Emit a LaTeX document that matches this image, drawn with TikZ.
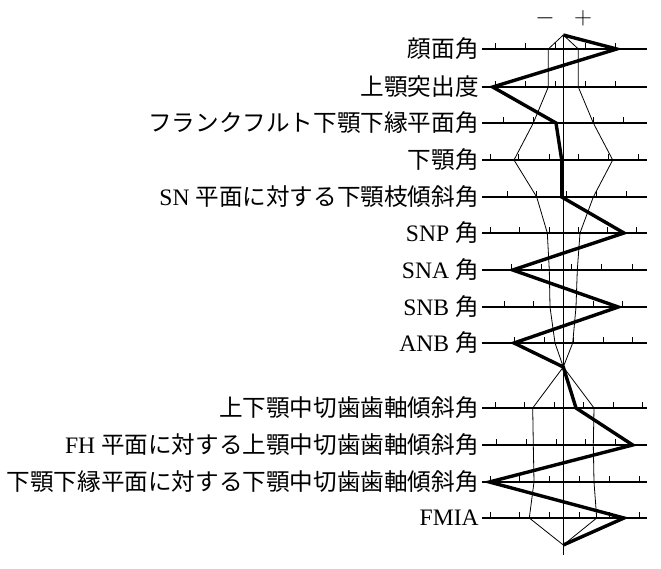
\documentclass[tikz,border=0pt]{standalone}
\usepackage{fontspec}
\setmainfont{Liberation Serif}
\newfontfamily\cjk{Noto Sans CJK JP}
\begin{document}
\begin{tikzpicture}[x=1pt,y=-1pt,semithick,
  lbl/.style={anchor=east,inner sep=0pt,font=\fontsize{23.6}{26}\selectfont},
  sgn/.style={inner sep=0pt,font=\fontsize{24}{26}\selectfont},
  axis/.style={line width=1.7pt},
  env/.style={line width=0.8pt},
  pat/.style={line width=3.4pt,line join=miter}]
\useasboundingbox (0,0) rectangle (661,569);
\draw[env] (563.3,35)--(563.3,555);
\node[sgn] (minus) at (545,18) {$-$};
\node[sgn] (plus) at (583,18) {$+$};
% rows: y / label / ticks
\foreach \y/\t/\tk in {
 49/{\cjk 顔面角}/{495,525,555,585,615},
 87/{\cjk 上顎突出度}/{495,525,555,585,615},
 123/{\cjk フランクフルト下顎下縁平面角}/{503.3,533.3,563.3,593.3,623.3},
 160/{\cjk 下顎角}/{490,518.3,549,578.3,608.3,638.3},
 197/{SN {\cjk 平面に対する下顎枝傾斜角}}/{507.3,536.7,566.7,596.7,626},
 233/{SNP {\cjk 角}}/{490,519.3,549,578.3,607.7,636.7},
 270/{SNA {\cjk 角}}/{511.7,541.7,571.7,601.7,632.3},
 307/{SNB {\cjk 角}}/{504.3,533.3,563.3,593.3,622.3},
 343/{ANB {\cjk 角}}/{514.3,544,573.3,603.3,632.7},
 408/{\cjk 上下顎中切歯歯軸傾斜角}/{495,524.3,554,583.3,613.3,642.7},
 445/{FH {\cjk 平面に対する上顎中切歯歯軸傾斜角}}/{496.7,526.7,556,585.7,615},
 482/{\cjk 下顎下縁平面に対する下顎中切歯歯軸傾斜角}/{490,519.3,549,579.3,609.3,639.3},
 518/{FMIA}/{490,519.3,549,579.3,609.3,639.3}}{
  \node[lbl] (row\y) at (479,\y) {\t};
  \draw[axis] (482,\y)--(647,\y);
  \foreach \x in \tk {\draw[env,line width=1pt] (\x,\y)--(\x,\y-6);}
}
% standard range
\draw[env] (563.3,35)--(548.3,49)--(548.3,87)--(533.3,123)--(514,160)--(536.7,197)
  --(547.3,233)--(549.3,270)--(550,307)--(555,343)--(563.3,367)--(532.7,408)
  --(533.3,445)--(534,482)--(529.3,518)--(563.3,545);
\draw[env] (563.3,35)--(578.3,49)--(578.3,87)--(593.3,123)--(612.7,160)--(593.3,197)
  --(580,233)--(577.3,270)--(576,307)--(572.7,343)--(563.3,367)--(594,408)
  --(593.3,445)--(594,482)--(596.7,518)--(563.3,545);
% patient
\draw[pat] (563.3,35)--(616.7,49)--(492.7,87)--(556,123)--(561.7,160)--(561.7,197)
  --(624,233)--(512.7,270)--(618.3,307)--(514,343)--(563.3,367)--(576,408)
  --(632.7,445)--(489.3,482)--(624,518)--(563.3,545);
\end{tikzpicture}
\end{document}
